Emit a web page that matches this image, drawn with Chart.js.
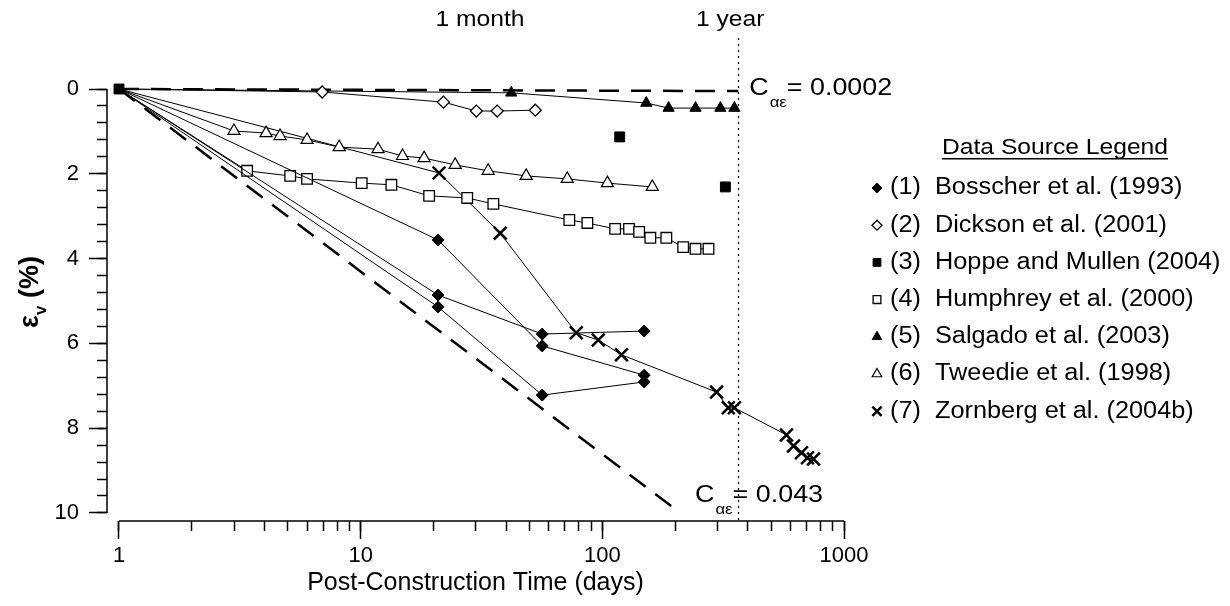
<!DOCTYPE html>
<html>
<head>
<meta charset="utf-8">
<title>Post-construction settlement</title>
<script src="https://cdn.jsdelivr.net/npm/chart.js@4/dist/chart.umd.min.js"></script>
<style>
  html, body { margin: 0; padding: 0; background: #fff; }
</style>
</head>
<body>
<canvas id="myChart" width="1230" height="606"></canvas>
<script>
// vertical strain vs post-construction time, log time axis

// tick positions
const xMajorTicks = [1, 10, 100, 1000];
const xMinorTicks = [1, 2, 3, 4, 5, 6, 7, 8, 9, 10, 20, 30, 40, 50, 60, 70, 80, 90,
                     100, 200, 300, 400, 500, 600, 700, 800, 900, 1000];
const yMajorTicks = [0, 2, 4, 6, 8, 10];
const yMinorTicks = [0, 0.4, 0.8, 1.2, 1.6, 2, 2.4, 2.8, 3.2, 3.6, 4, 4.4, 4.8, 5.2, 5.6,
                     6, 6.4, 6.8, 7.2, 7.6, 8, 8.4, 8.8, 9.2, 9.6, 10];

// (1) Bosscher et al. (1993) - three sections
const bosscherDays = [1, 20.9, 56.4, 149];
const bosscherA = [0, 3.56, 6.06, 6.75];
const bosscherB = [0, 4.86, 5.78, 5.71];
const bosscherC = [0, 5.14, 7.22, 6.91];

// (2) Dickson et al. (2001)
const dicksonDays = [1, 6.93, 22, 30.1, 36.7, 52.8];
const dicksonStrain = [0, 0.07, 0.31, 0.52, 0.52, 0.50];

// (3) Hoppe and Mullen (2004)
const hoppeDays = [1, 118, 323];
const hoppeStrain = [0, 1.13, 2.31];

// (4) Humphrey et al. (2000)
const humphreyDays = [1, 3.39, 5.11, 6.0, 10.1, 13.4, 19.2, 27.6, 35.4, 73, 86.7, 113, 129,
                      142, 158, 184, 216, 243, 275];
const humphreyStrain = [0, 1.93, 2.05, 2.12, 2.22, 2.26, 2.52, 2.57, 2.71, 3.09, 3.16, 3.30, 3.30,
                        3.37, 3.51, 3.51, 3.73, 3.77, 3.77];

// (5) Salgado et al. (2003)
const salgadoDays = [1, 42, 152, 188, 243, 308, 352];
const salgadoStrain = [0, 0.09, 0.33, 0.45, 0.45, 0.45, 0.45];

// (6) Tweedie et al. (1998)
const tweedieDays = [1, 2.99, 4.06, 4.64, 6.0, 8.15, 11.8, 14.9, 18.3, 24.6, 33.7, 48.4, 71.6, 105, 161];
const tweedieStrain = [0, 0.99, 1.04, 1.11, 1.20, 1.37, 1.42, 1.58, 1.63, 1.79, 1.93, 2.05, 2.12, 2.22, 2.31];

// (7) Zornberg et al. (2004b)
const zornbergDays = [1, 21.1, 37.8, 78, 96.2, 120, 297, 332, 352, 578, 618, 667, 706, 748];
const zornbergStrain = [0, 1.98, 3.40, 5.75, 5.92, 6.27, 7.15, 7.52, 7.52, 8.16, 8.42, 8.58, 8.70, 8.73];

// creep bounds
const creepLowDays = [1, 365];
const creepLowStrain = [0, 0.05];
const creepHighDays = [1, 210];
const creepHighStrain = [0, 10];

const oneMonth = 30;
const oneYear = 365;

const legendLabels = [
    '(1)  Bosscher et al. (1993)',
    '(2)  Dickson et al. (2001)',
    '(3)  Hoppe and Mullen (2004)',
    '(4)  Humphrey et al. (2000)',
    '(5)  Salgado et al. (2003)',
    '(6)  Tweedie et al. (1998)',
    '(7)  Zornberg et al. (2004b)'
];

const FONT = '"Liberation Sans", Arial, Helvetica, sans-serif';
const STRETCH = 1.12;   // the source lettering is a bit wider than Arial

// marker styles
const filledDiamond = { pointStyle: 'rectRot', pointRadius: 6, pointBackgroundColor: '#000', pointBorderWidth: 1 };
const openDiamond = { pointStyle: 'rectRot', pointRadius: 6, pointBackgroundColor: '#fff', pointBorderWidth: 1.3 };
const filledSquare = { pointStyle: 'rect', pointRadius: 7, pointBackgroundColor: '#000', pointBorderWidth: 1 };
const openSquare = { pointStyle: 'rect', pointRadius: 7.5, pointBackgroundColor: '#fff', pointBorderWidth: 1.3 };
const filledTriangle = { pointStyle: 'triangle', pointRadius: 6.5, pointBackgroundColor: '#000', pointBorderWidth: 1 };
const openTriangle = { pointStyle: 'triangle', pointRadius: 7, pointBackgroundColor: '#fff', pointBorderWidth: 1.2 };
const crossMark = { pointStyle: 'crossRot', pointRadius: 9, pointBackgroundColor: '#000', pointBorderWidth: 2.5 };

const legendMarkers = [filledDiamond, openDiamond, filledSquare, openSquare, filledTriangle, openTriangle, crossMark];

function toPoints(days, strain) {
    return days.map((d, i) => ({ x: d, y: strain[i] }));
}

// a measured series: thin line from the origin, no marker on the origin
function series(days, strain, marker, showLine) {
    const r = marker.pointRadius;
    return {
        data: toPoints(days, strain),
        xAxisID: 'x',
        yAxisID: 'y',
        showLine: showLine,
        borderColor: '#000',
        borderWidth: 1,
        backgroundColor: marker.pointBackgroundColor,
        pointStyle: marker.pointStyle,
        pointBackgroundColor: marker.pointBackgroundColor,
        pointBorderColor: '#000',
        pointBorderWidth: marker.pointBorderWidth,
        pointRadius: showLine ? (c => c.dataIndex === 0 ? 0 : r) : r,
        tension: 0,
        clip: false
    };
}

function dashedLine(days, strain) {
    return {
        data: toPoints(days, strain),
        xAxisID: 'x',
        yAxisID: 'y',
        borderColor: '#000',
        borderWidth: 2.5,
        borderDash: [20, 12],
        pointRadius: 0,
        tension: 0,
        clip: false
    };
}

function wideText(ctx, text, x, y, align, stretch) {
    const k = stretch || STRETCH;
    const w = ctx.measureText(text).width * k;
    let left = x;
    if (align === 'center') left = x - w / 2;
    if (align === 'right') left = x - w;
    ctx.save();
    ctx.translate(left, y);
    ctx.scale(k, 1);
    ctx.textAlign = 'left';
    ctx.fillText(text, 0, 0);
    ctx.restore();
    return left + w;
}

// C_ae = value label
function creepLabel(ctx, x, y, value) {
    ctx.font = '24px ' + FONT;
    let px = wideText(ctx, 'C', x, y, 'left');
    ctx.font = '15px ' + FONT;
    px = wideText(ctx, '\u03b1\u03b5', px + 1, y + 15, 'left');
    ctx.font = '24px ' + FONT;
    wideText(ctx, '= ' + value, px, y, 'left');
}

function drawMarker(ctx, m, x, y, radius) {
    ctx.fillStyle = m.pointBackgroundColor;
    ctx.strokeStyle = '#000';
    ctx.lineWidth = m.pointBorderWidth;
    const opts = { pointStyle: m.pointStyle, radius: radius, borderWidth: m.pointBorderWidth, rotation: 0 };
    Chart.helpers.drawPoint(ctx, opts, x, y);
}

const decorations = {
    id: 'decorations',
    beforeDatasetsDraw(chart) {
        const { ctx } = chart;
        const x = chart.scales.x, y = chart.scales.y;
        ctx.save();
        ctx.strokeStyle = '#000';
        ctx.lineWidth = 1.5;
        ctx.beginPath();
        // the two axes do not meet, as in the source
        ctx.moveTo(x.left, y.getPixelForValue(yMajorTicks[0]));
        ctx.lineTo(x.left, y.getPixelForValue(yMajorTicks[yMajorTicks.length - 1]));
        ctx.moveTo(x.getPixelForValue(xMajorTicks[0]), y.bottom);
        ctx.lineTo(x.getPixelForValue(xMajorTicks[xMajorTicks.length - 1]), y.bottom);
        ctx.stroke();

        // 1 year marker
        const yr = Math.round(x.getPixelForValue(oneYear)) + 0.5;
        ctx.lineWidth = 1.3;
        ctx.setLineDash([2, 4]);
        ctx.beginPath();
        ctx.moveTo(yr, 38);
        ctx.lineTo(yr, y.bottom);
        ctx.stroke();
        ctx.restore();
    },
    afterDraw(chart) {
        const { ctx } = chart;
        const x = chart.scales.x, y = chart.scales.y;
        ctx.save();
        ctx.fillStyle = '#000';
        ctx.textBaseline = 'middle';

        ctx.font = '22px ' + FONT;
        wideText(ctx, '1 month', x.getPixelForValue(oneMonth) + 4, 20, 'center');
        wideText(ctx, '1 year', x.getPixelForValue(oneYear) - 8, 20, 'center');

        creepLabel(ctx, x.getPixelForValue(oneYear) + 11, y.getPixelForValue(0) - 1, '0.0002');
        creepLabel(ctx, 695, 495, '0.043');

        // y axis title: eps_v (%)
        ctx.save();
        ctx.translate(38, 292);
        ctx.rotate(-Math.PI / 2);
        ctx.textBaseline = 'alphabetic';
        ctx.textAlign = 'left';
        ctx.font = 'bold 27px ' + FONT;
        const wE = ctx.measureText('\u03b5').width;
        const wP = ctx.measureText(' (%)').width;
        ctx.font = 'bold 17px ' + FONT;
        const wV = ctx.measureText('v').width;
        let fx = -(wE + wV + wP) / 2;
        ctx.font = 'bold 27px ' + FONT;
        ctx.fillText('\u03b5', fx, 0);
        fx += wE;
        ctx.font = 'bold 17px ' + FONT;
        ctx.fillText('v', fx, 8);
        fx += wV;
        ctx.font = 'bold 27px ' + FONT;
        ctx.fillText(' (%)', fx, 0);
        ctx.restore();

        // legend
        ctx.font = '22px ' + FONT;
        const titleRight = wideText(ctx, 'Data Source Legend', 1055, 148, 'center');
        const titleW = titleRight - 1055;
        ctx.fillRect(1055 - titleW, 158, titleW * 2, 1.5);
        legendLabels.forEach((label, i) => {
            const ly = 188 + i * 37.2;
            const m = legendMarkers[i];
            const r = m.pointStyle === 'crossRot' ? 6.5 : (m.pointStyle === 'rectRot' ? 5 : 5.5);
            drawMarker(ctx, m, 877, ly, r);
            ctx.fillStyle = '#000';
            ctx.font = '23px ' + FONT;
            wideText(ctx, label, 890, ly, 'left', 1.1);
        });
        ctx.restore();
    }
};

const tickGrid = len => ({
    drawOnChartArea: false,
    drawTicks: true,
    tickLength: len,
    tickColor: '#000',
    tickWidth: 1.5
});

const X_MIN = 0.892;   // leaves the y axis a little left of t = 1 day
const Y_MAX = 10.19;   // leaves the time axis a little below 10 %

window.onload = function() {
    const ctx = document.getElementById('myChart').getContext('2d');
    const myChart = new Chart(ctx, {
        type: 'line',
        data: {
            datasets: [
                series(bosscherDays, bosscherA, filledDiamond, true),
                series(bosscherDays, bosscherB, filledDiamond, true),
                series(bosscherDays, bosscherC, filledDiamond, true),
                series(dicksonDays, dicksonStrain, openDiamond, true),
                series(hoppeDays, hoppeStrain, filledSquare, false),
                series(humphreyDays, humphreyStrain, openSquare, true),
                series(salgadoDays, salgadoStrain, filledTriangle, true),
                series(tweedieDays, tweedieStrain, openTriangle, true),
                series(zornbergDays, zornbergStrain, crossMark, true),
                dashedLine(creepLowDays, creepLowStrain),
                dashedLine(creepHighDays, creepHighStrain)
            ]
        },
        options: {
            responsive: false,
            animation: false,
            events: [],
            layout: { padding: { top: 89, right: 386, bottom: 0, left: 0 } },
            plugins: { legend: { display: false }, tooltip: { enabled: false } },
            scales: {
                x2: {
                    type: 'logarithmic', position: 'bottom', min: X_MIN, max: 1000,
                    afterBuildTicks: s => { s.ticks = xMinorTicks.map(v => ({ value: v })); },
                    afterFit: s => { s.height = 0; },
                    ticks: { display: false },
                    grid: tickGrid(10),
                    border: { display: false }
                },
                x: {
                    type: 'logarithmic', position: 'bottom', min: X_MIN, max: 1000,
                    afterBuildTicks: s => { s.ticks = xMajorTicks.map(v => ({ value: v })); },
                    afterFit: s => { s.height = 85; },
                    ticks: {
                        callback: v => String(v),
                        autoSkip: false, maxRotation: 0, padding: 4,
                        color: '#000', font: { family: FONT, size: 22 }
                    },
                    grid: tickGrid(18),
                    border: { display: false },
                    title: {
                        display: true, text: 'Post-Construction Time (days)',
                        color: '#000', font: { family: FONT, size: 25 },
                        padding: { top: 0, bottom: 8 }
                    }
                },
                y2: {
                    type: 'linear', position: 'left', reverse: true, min: 0, max: Y_MAX,
                    afterBuildTicks: s => { s.ticks = yMinorTicks.map(v => ({ value: v })); },
                    afterFit: s => { s.width = 0; },
                    ticks: { display: false },
                    grid: tickGrid(10),
                    border: { display: false }
                },
                y: {
                    type: 'linear', position: 'left', reverse: true, min: 0, max: Y_MAX,
                    afterBuildTicks: s => { s.ticks = yMajorTicks.map(v => ({ value: v })); },
                    afterFit: s => { s.width = 107; },
                    ticks: {
                        callback: v => String(v),
                        padding: 10,
                        color: '#000', font: { family: FONT, size: 22 }
                    },
                    grid: tickGrid(18),
                    border: { display: false }
                }
            }
        },
        plugins: [decorations]
    });
};
</script>
</body>
</html>
